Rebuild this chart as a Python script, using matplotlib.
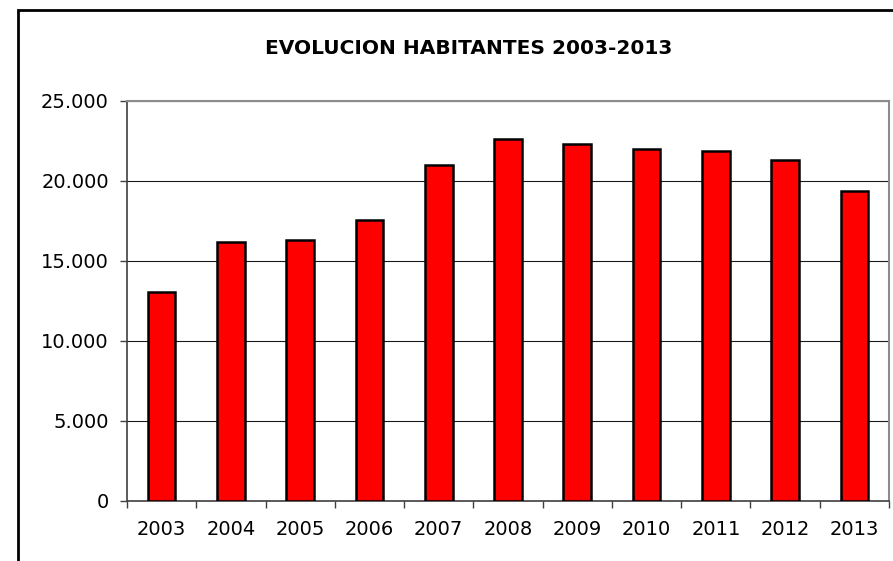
import matplotlib
matplotlib.use('Agg')
import matplotlib.pyplot as plt
import matplotlib.ticker as ticker
from matplotlib.patches import Rectangle

# data
years = ['2003', '2004', '2005', '2006', '2007', '2008',
         '2009', '2010', '2011', '2012', '2013']
habitantes = [13040, 16170, 16330, 17540, 21020, 22600,
              22310, 22020, 21850, 21290, 19380]
y_ticks = [0, 5000, 10000, 15000, 20000, 25000]

plt.rcParams['font.family'] = 'DejaVu Sans'

fig = plt.figure(figsize=(8.93, 5.61), dpi=100)
ax = fig.add_axes([127/893, 60/561, 762/893, 400/561])

x = list(range(len(years)))
ax.bar(x, habitantes, width=0.4, color='#ff0000', edgecolor='black',
       linewidth=1.8, zorder=3)

# y axis
ax.set_ylim(0, 25000)
ax.set_yticks(y_ticks)
ax.yaxis.set_major_formatter(
    ticker.FuncFormatter(lambda v, p: '{:,.0f}'.format(v).replace(',', '.')))
ax.yaxis.grid(True, color='#1a1a1a', linewidth=0.8, zorder=1)
ax.tick_params(axis='y', direction='out', length=5, width=1,
               color='#404040', pad=8, labelsize=14)

# x axis: labels centred, tick marks at category boundaries
ax.set_xlim(-0.5, len(years) - 0.5)
ax.set_xticks(x)
ax.set_xticklabels(years)
ax.set_xticks([i - 0.5 for i in range(len(years) + 1)], minor=True)
ax.tick_params(axis='x', which='major', length=0, pad=14, labelsize=14)
ax.tick_params(axis='x', which='minor', direction='out', length=5,
               width=1, color='#404040')

for side in ['left', 'bottom']:
    ax.spines[side].set_color('#404040')
    ax.spines[side].set_linewidth(1.2)
for side in ['top', 'right']:
    ax.spines[side].set_color('#8c8c8c')
    ax.spines[side].set_linewidth(1.5)

fig.text(469/893, 1 - 48/561, 'EVOLUCION HABITANTES 2003-2013',
         ha='center', va='center', fontsize=14.5, fontweight='bold')

# outer chart frame (runs off the right and bottom edges)
fig.patches.append(Rectangle((17.5/893, -0.02), 1.05, 1 - 10/561 + 0.02,
                             transform=fig.transFigure, fill=False,
                             edgecolor='black', linewidth=2))

fig.savefig('out.png', dpi=100)
